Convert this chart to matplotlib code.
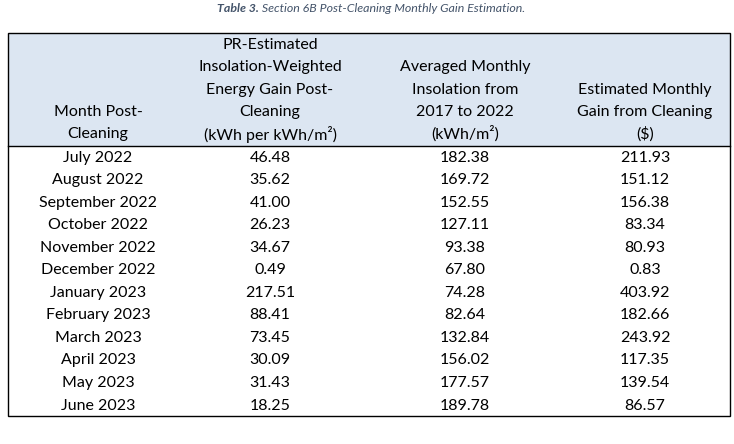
import matplotlib
matplotlib.use("Agg")
import matplotlib.pyplot as plt
from matplotlib.patches import Rectangle

TITLE_BOLD = "Table 3."
TITLE_REST = " Section 6B Post-Cleaning Monthly Gain Estimation."

HEADERS = [
    ["Month Post-", "Cleaning"],
    ["PR-Estimated", "Insolation-Weighted", "Energy Gain Post-", "Cleaning",
     "(kWh per kWh/m²)"],
    ["Averaged Monthly", "Insolation from", "2017 to 2022", "(kWh/m²)"],
    ["Estimated Monthly", "Gain from Cleaning", "($)"],
]
MONTHS = ["July 2022", "August 2022", "September 2022", "October 2022",
          "November 2022", "December 2022", "January 2023", "February 2023",
          "March 2023", "April 2023", "May 2023", "June 2023"]
ENERGY_GAIN = [46.48, 35.62, 41.00, 26.23, 34.67, 0.49, 217.51, 88.41,
               73.45, 30.09, 31.43, 18.25]
INSOLATION = [182.38, 169.72, 152.55, 127.11, 93.38, 67.80, 74.28, 82.64,
              132.84, 156.02, 177.57, 189.78]
GAIN_USD = [211.93, 151.12, 156.38, 83.34, 80.93, 0.83, 403.92, 182.66,
            243.92, 117.35, 139.54, 86.57]

FONT = "Lato"
W, H = 734, 444
COL_X = [98, 270, 465, 645]
LEFT, RIGHT = 8, 730
TOP, HEAD_BOTTOM, BOTTOM = 33, 146, 416
ROW0, ROW_STEP = 157.5, 22.55
HEAD_LAST, HEAD_STEP = 134, 22.2

fig = plt.figure(figsize=(W / 100, H / 100), dpi=100)
ax = fig.add_axes([0, 0, 1, 1])
ax.set_xlim(0, W)
ax.set_ylim(H, 0)
ax.axis("off")

# title (bold "Table 3." then italic rest)
t = ax.text(217, 8, TITLE_BOLD, ha="left", va="center", fontsize=8.9,
            fontstyle="italic", fontweight="bold", color="#44546A", family=FONT)
ax.annotate(TITLE_REST, xycoords=t, xy=(1, 0.5), va="center", ha="left",
            fontsize=8.9, fontstyle="italic", color="#44546A", family=FONT)

# header background and borders
ax.add_patch(Rectangle((LEFT, TOP), RIGHT - LEFT, HEAD_BOTTOM - TOP,
                       facecolor="#DCE6F2", edgecolor="none"))
ax.add_patch(Rectangle((LEFT, TOP), RIGHT - LEFT, BOTTOM - TOP,
                       facecolor="none", edgecolor="black", linewidth=1.0))
ax.plot([LEFT, RIGHT], [HEAD_BOTTOM, HEAD_BOTTOM], color="black", linewidth=1.0)

# header text, bottom aligned
for x, lines in zip(COL_X, HEADERS):
    n = len(lines)
    for i, line in enumerate(lines):
        y = HEAD_LAST - (n - 1 - i) * HEAD_STEP
        ax.text(x, y, line, ha="center", va="center", fontsize=11.5,
                family=FONT, color="black")

# body
for r, month in enumerate(MONTHS):
    y = ROW0 + r * ROW_STEP
    vals = [month, f"{ENERGY_GAIN[r]:.2f}", f"{INSOLATION[r]:.2f}",
            f"{GAIN_USD[r]:.2f}"]
    for x, v in zip(COL_X, vals):
        ax.text(x, y, v, ha="center", va="center", fontsize=11.5,
                family=FONT, color="black")

fig.savefig("out.png", dpi=100)
